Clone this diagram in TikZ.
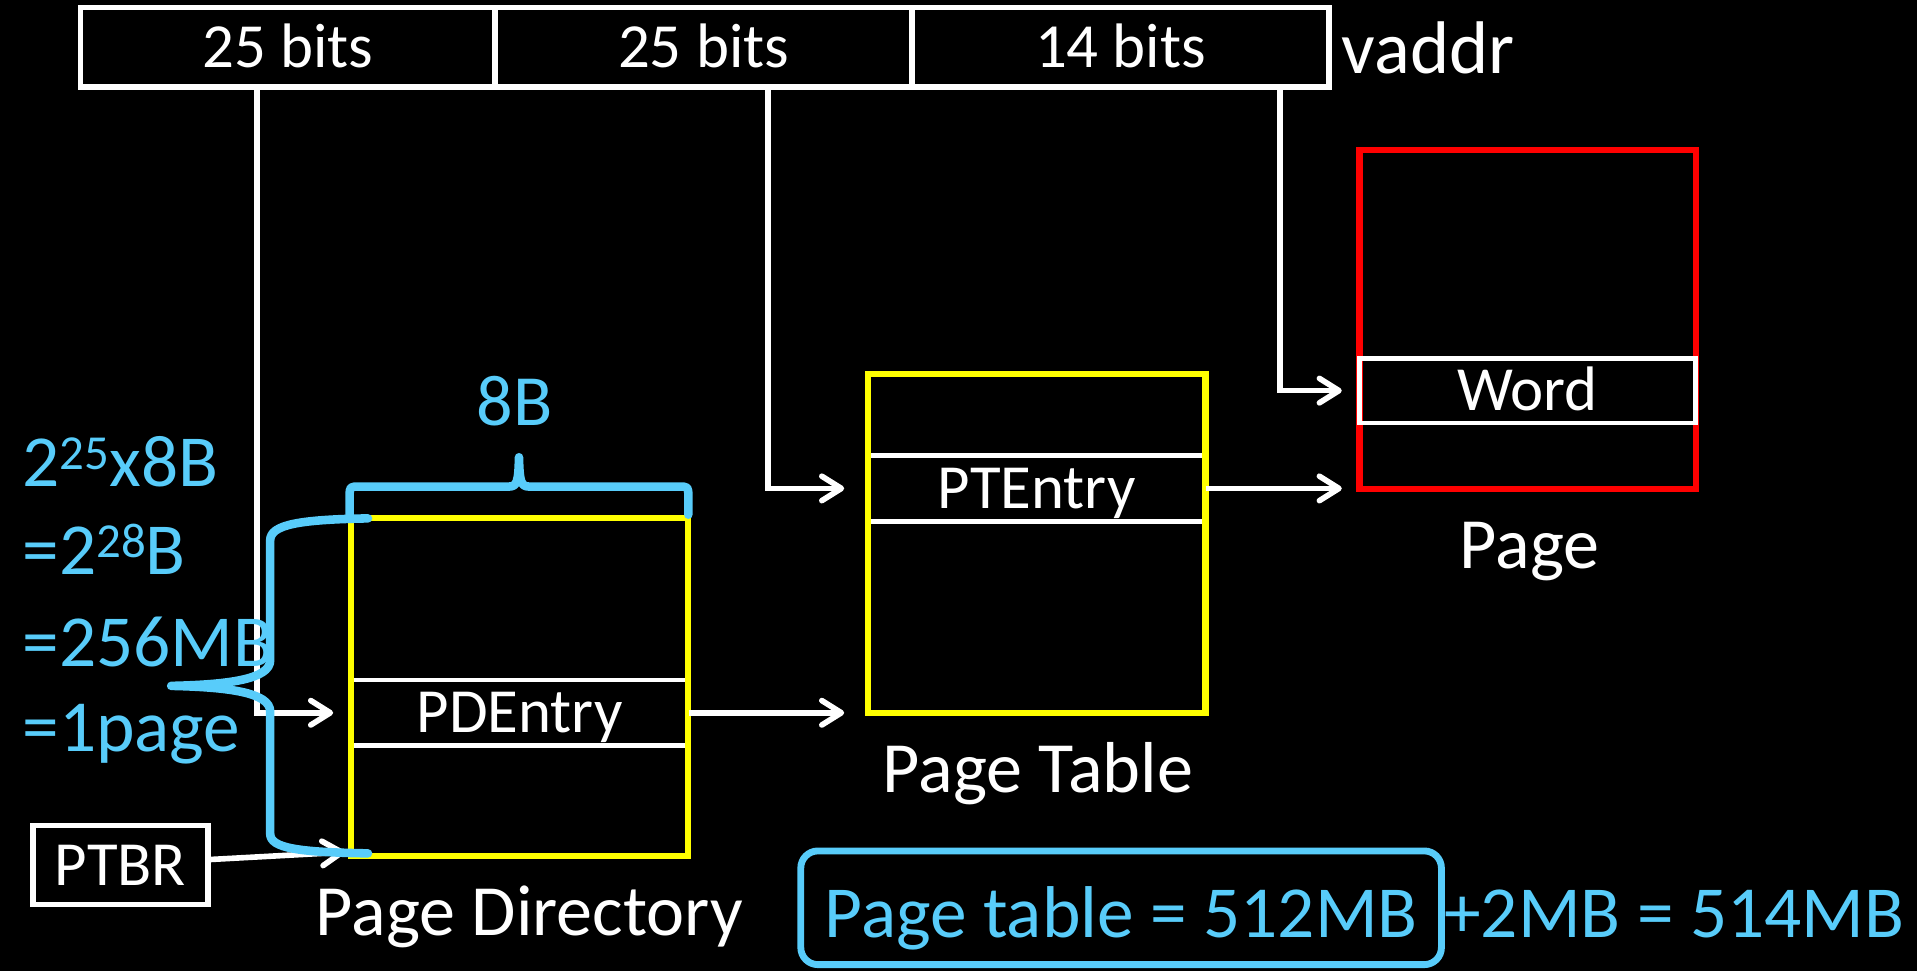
\documentclass[tikz,border=0pt]{standalone}
\usepackage{fontspec}
\setmainfont{Carlito}
\usetikzlibrary{arrows.meta}
\definecolor{sky}{RGB}{88,204,250}
\definecolor{yel}{RGB}{255,255,0}
\definecolor{redc}{RGB}{255,0,0}
\newcommand{\fs}[1]{\fontsize{#1}{#1}\selectfont}
\newcommand{\supr}[1]{\raisebox{7pt}{\fs{20}#1}}
\begin{document}
\begin{tikzpicture}[x=0.5pt,y=-0.5pt,
  wl/.style={draw=white,line width=1.9pt},
  arr/.style={draw=white,line width=2.3pt,-{Straight Barb[length=8pt,width=10pt,round]}},
  cell/.style={draw=white,line width=2.2pt,minimum height=32.5pt,inner sep=0pt,text=white,font=\fs{25.7},text height=16.5pt,text depth=0pt},
  ybox/.style={draw=yel,line width=2.5pt,inner sep=0pt,minimum width=138pt},
  entry/.style={inner sep=0pt,minimum width=138pt,minimum height=26.5pt,text=white,font=\fs{25.7},text height=16.5pt,text depth=0pt},
  lab/.style={anchor=base,inner sep=0pt,text=white,font=\fs{29.5}},
  lt/.style={anchor=base west,inner sep=0pt,text=sky,font=\fs{30}},
  brace/.style={draw=sky,line width=3.5pt,line cap=round,line join=round}
]
\fill[black] (0,0) rectangle (1568,794);
\useasboundingbox (0,0) rectangle (1568,794);

% virtual address
\node[cell,minimum width=169.5pt] (bit1) at (235.5,38.5) {25 bits};
\node[cell,minimum width=170.5pt] (bit2) at (575.5,38.5) {25 bits};
\node[cell,minimum width=170.5pt] (bit3) at (916.5,38.5) {14 bits};
\node[anchor=base west,inner sep=0pt,text=white,font=\fs{30.5}] (vaddr) at (1097,60) {vaddr};

% page directory
\node[entry] (pde) at (425,583) {PDEntry};
\draw[wl] (pde.north west) -- (pde.north east) (pde.south west) -- (pde.south east);
\node[ybox,minimum height=138pt] (pd) at (425,562) {};
\node[lab] (pdlab) at (433,765) {Page Directory};

% page table
\node[entry] (pte) at (848,399.5) {PTEntry};
\draw[wl] (pte.north west) -- (pte.north east) (pte.south west) -- (pte.south east);
\node[ybox,minimum height=138.5pt] (pt) at (848,444.5) {};
\node[lab] (ptlab) at (849,648) {Page Table};

% page
\node[draw=redc,line width=2.5pt,inner sep=0pt,minimum width=137.5pt,minimum height=138.5pt] (page) at (1249.5,261.5) {};
\node[entry,draw=white,line width=2pt,minimum width=137.5pt] (word) at (1249.5,319.5) {Word};
\node[lab] (pagelab) at (1251,465) {Page};

% PTBR
\node[cell,minimum width=71.5pt,minimum height=32.5pt] (ptbr) at (98.5,707.5) {PTBR};

% connectors
\coordinate (c1) at (210,0);
\coordinate (c2) at (628,0);
\coordinate (c3) at (1047,0);
\coordinate (ptbrtip) at (282,697);
\draw[arr] (c1 |- bit1.south) |- ([xshift=-6pt]pd.west |- pde.west);
\draw[arr] (c2 |- bit2.south) |- ([xshift=-8.5pt]pt.west |- pte.west);
\draw[arr] (c3 |- bit3.south) |- ([xshift=-6pt]page.west |- word.west);
\draw[arr] (pde.east) -- ([xshift=-8.5pt]pt.west |- pde.east);
\draw[arr] (pte.east) -- ([xshift=-6pt]page.west |- pte.east);
\draw[arr] ([yshift=2.25pt]ptbr.east) -- (ptbrtip);

% size annotations
\node[lt] (l1) at (18,398) {2\supr{25}x8B};
\node[lt] (l2) at (18,470) {=2\supr{28}B};
\node[lt] (l3) at (18,545) {=256MB};
\node[lt] (l4) at (18,615) {=1page};
\node[anchor=base,inner sep=0pt,text=sky,font=\fs{29.5}] (eightb) at (421,348) {8B};

\draw[brace] (286,421) -- (286,406) .. controls (286,398) .. (294,398) -- (416,398)
  .. controls (423,398) and (424,394) .. (424.5,374)
  .. controls (425,394) and (426,398) .. (433,398) -- (555,398)
  .. controls (563,398) .. (563,406) -- (563,421);
\draw[brace] (301,424) .. controls (245,425) and (221,429) .. (221,442) -- (221,540)
  .. controls (221,556) and (185,560) .. (140,561)
  .. controls (185,562) and (221,566) .. (221,582) -- (221,682)
  .. controls (221,694) and (245,697) .. (301,698);

% totals
\node[draw=sky,line width=2.8pt,rounded corners=7pt,minimum width=262pt,minimum height=46.5pt,inner sep=0pt,text=sky,font=\fs{30},text height=24pt,text depth=0pt] (tot) at (917,742.5) {Page table = 512MB};
\node[anchor=base west,inner sep=0pt,text=sky,font=\fs{30}] (rest) at (1181,767) {+2MB = 514MB};
\end{tikzpicture}
\end{document}
